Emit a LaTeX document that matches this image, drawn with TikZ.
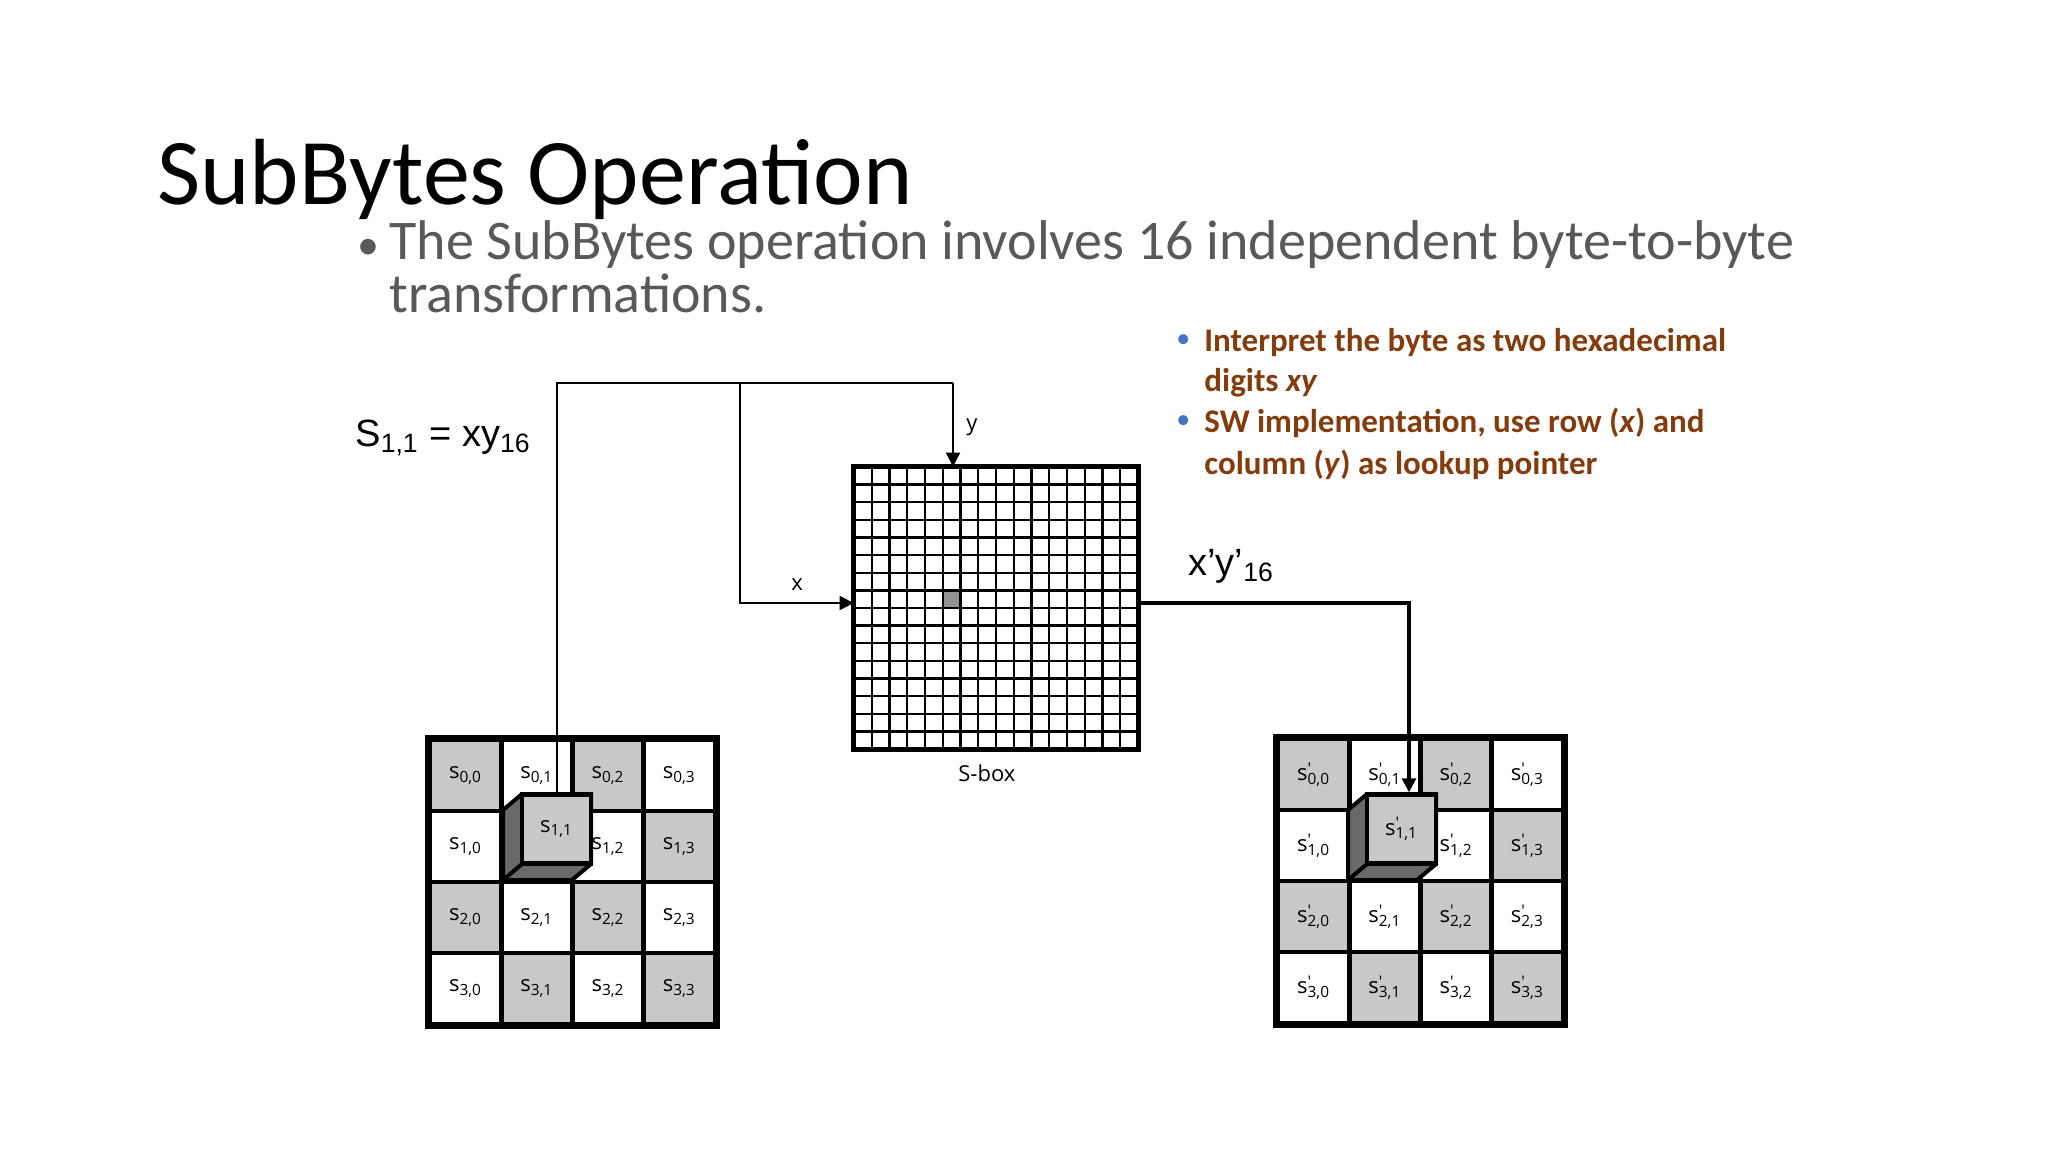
\documentclass[tikz,border=0pt]{standalone}
\usepackage{fontspec}
\setmainfont{Carlito}
\newfontfamily\arialf{Liberation Sans}
\newfontfamily\cellf{Open Sans}
\usetikzlibrary{arrows.meta}
\definecolor{cellgray}{RGB}{200,200,200}
\definecolor{cubedark}{RGB}{105,105,105}
\definecolor{txtgray}{RGB}{89,89,89}
\definecolor{brownred}{RGB}{132,60,12}
\definecolor{bulletblue}{RGB}{68,114,196}
\tikzset{
 cellbox/.style={draw=black,line width=2.2pt,minimum size=35.5pt,inner sep=0pt,font=\cellf\fontsize{11}{11}\selectfont},
 sboxline/.style={line width=1.2pt},
 conn/.style={line width=0.9pt},
 connthick/.style={line width=1.6pt},
 tip/.style={-{Triangle[length=7pt,width=7pt]}},
 smalllbl/.style={font=\cellf\fontsize{11}{11}\selectfont,inner sep=0pt,anchor=base west},
}
\newcommand{\sv}[2]{s\textsubscript{#1,#2}}
\newcommand{\svp}[2]{s\rlap{\raisebox{0.55ex}{\fontsize{8}{8}\selectfont '}}\textsubscript{#1,#2}}
\begin{document}
\begin{tikzpicture}[x=0.5pt,y=-0.5pt]
\useasboundingbox[fill=white] (0,0) rectangle (2048,1152);
% title
\node[anchor=base west,inner sep=0pt,font=\fontsize{47}{47}\selectfont] (title) at (157,204) {SubBytes Operation};
\node[anchor=base west,inner sep=0pt,text=txtgray,font=\fontsize{22}{22}\selectfont] (b0) at (357,259) {•};
\node[anchor=base west,inner sep=0pt,text=txtgray,font=\fontsize{28}{28}\selectfont] (t1) at (389,259) {The SubBytes operation involves 16 independent byte-to-byte};
\node[anchor=base west,inner sep=0pt,text=txtgray,font=\fontsize{28}{28}\selectfont] (t2) at (389,312) {transformations.};
% right bullets
\node[anchor=base west,inner sep=0pt,text=bulletblue,font=\fontsize{14}{14}\selectfont] (bb1) at (1176,347) {•};
\node[anchor=base west,inner sep=0pt,text=bulletblue,font=\fontsize{14}{14}\selectfont] (bb2) at (1176,428) {•};
\begin{scope}[every node/.style={anchor=base west,inner sep=0pt,text=brownred,font=\bfseries\fontsize{16.5}{16.5}\selectfont}]
\node (r1) at (1204,351) {Interpret the byte as two hexadecimal};
\node (r2) at (1204,391) {digits \textit{xy}};
\node (r3) at (1204,432) {SW implementation, use row (\textit{x}) and};
\node (r4) at (1204,474) {column (\textit{y}) as lookup pointer};
\end{scope}
% labels
\node[anchor=base west,inner sep=0pt,font=\arialf\fontsize{19}{19}\selectfont] (eq) at (355,446) {S\textsubscript{1,1} = xy\textsubscript{16}};
\node[anchor=base west,inner sep=0pt,font=\arialf\fontsize{19}{19}\selectfont] (out) at (1188,575) {x’y’\textsubscript{16}};
\node[smalllbl] (ylbl) at (966,430) {y};
\node[smalllbl] (xlbl) at (791,590) {x};
\node[smalllbl] (sblbl) at (958,781) {S-box};
% grids
\foreach \r in {0,...,3}{\foreach \c in {0,...,3}{
 \pgfmathtruncatemacro{\parity}{mod(\r+\c,2)}
 \ifnum\parity=0 \def\fc{cellgray}\else\def\fc{white}\fi
 \node[cellbox,fill=\fc] (L-\r-\c) at ({430+71.25*\c+35.6},{740+71*\r+35.5}) {\sv{\r}{\c}};
 \node[cellbox,fill=\fc] (R-\r-\c) at ({1278+71.25*\c+35.6},{739+71*\r+35.5}) {\svp{\r}{\c}};
}}
\draw[line width=2.6pt] (L-0-0.north west) rectangle (L-3-3.south east);
\draw[line width=2.6pt] (R-0-0.north west) rectangle (R-3-3.south east);
% cubes
\foreach \g/\fx/\fy in {L/522/794,R/1367/794}{
 \fill[cubedark,draw=black,line width=2pt] (\fx,\fy) -- ++(-19,16) -- ++(0,70) -- ++(69,0) -- ++(19,-16) -- ++(0,-70) -- cycle;
 \node[cellbox,fill=cellgray,minimum size=34.5pt] (\g cube) at (\fx+34.5,\fy+35) {};
 \draw[line width=2pt] (\fx,\fy+70) -- ++(-19,16);
}
\node[font=\cellf\fontsize{11}{11}\selectfont] at (Lcube) {\sv{1}{1}};
\node[font=\cellf\fontsize{11}{11}\selectfont] at (Rcube) {\svp{1}{1}};
% S-box
\node[draw=none,minimum width=142pt,minimum height=141pt,inner sep=0pt] (sbox) at (996,608) {};
\fill[gray!85] (943,590) rectangle (961,607);
\foreach \i in {1,...,15}{
 \draw[sboxline] ({854+17.75*\i},467) -- ({854+17.75*\i},749);
 \draw[sboxline] (854,{467+17.625*\i}) -- (1138,{467+17.625*\i});
}
\draw[line width=2.4pt] (sbox.north west) rectangle (sbox.south east);
% connectors
\coordinate (tl) at (557,383);
\coordinate (tr) at (953,383);
\coordinate (xm) at (740,383);
\coordinate (xb) at (740,603);
\draw[conn] (Lcube.north -| tl) -- (tl) -- (tr);
\draw[conn,tip] (tr) -- (tr |- sbox.north);
\draw[conn,tip] (xm) -- (xb) -- (xb -| sbox.west);
\coordinate (ob) at (1409,603);
\draw[connthick,tip] (ob -| sbox.east) -- (ob) -- (ob |- Rcube.north);
\end{tikzpicture}
\end{document}
